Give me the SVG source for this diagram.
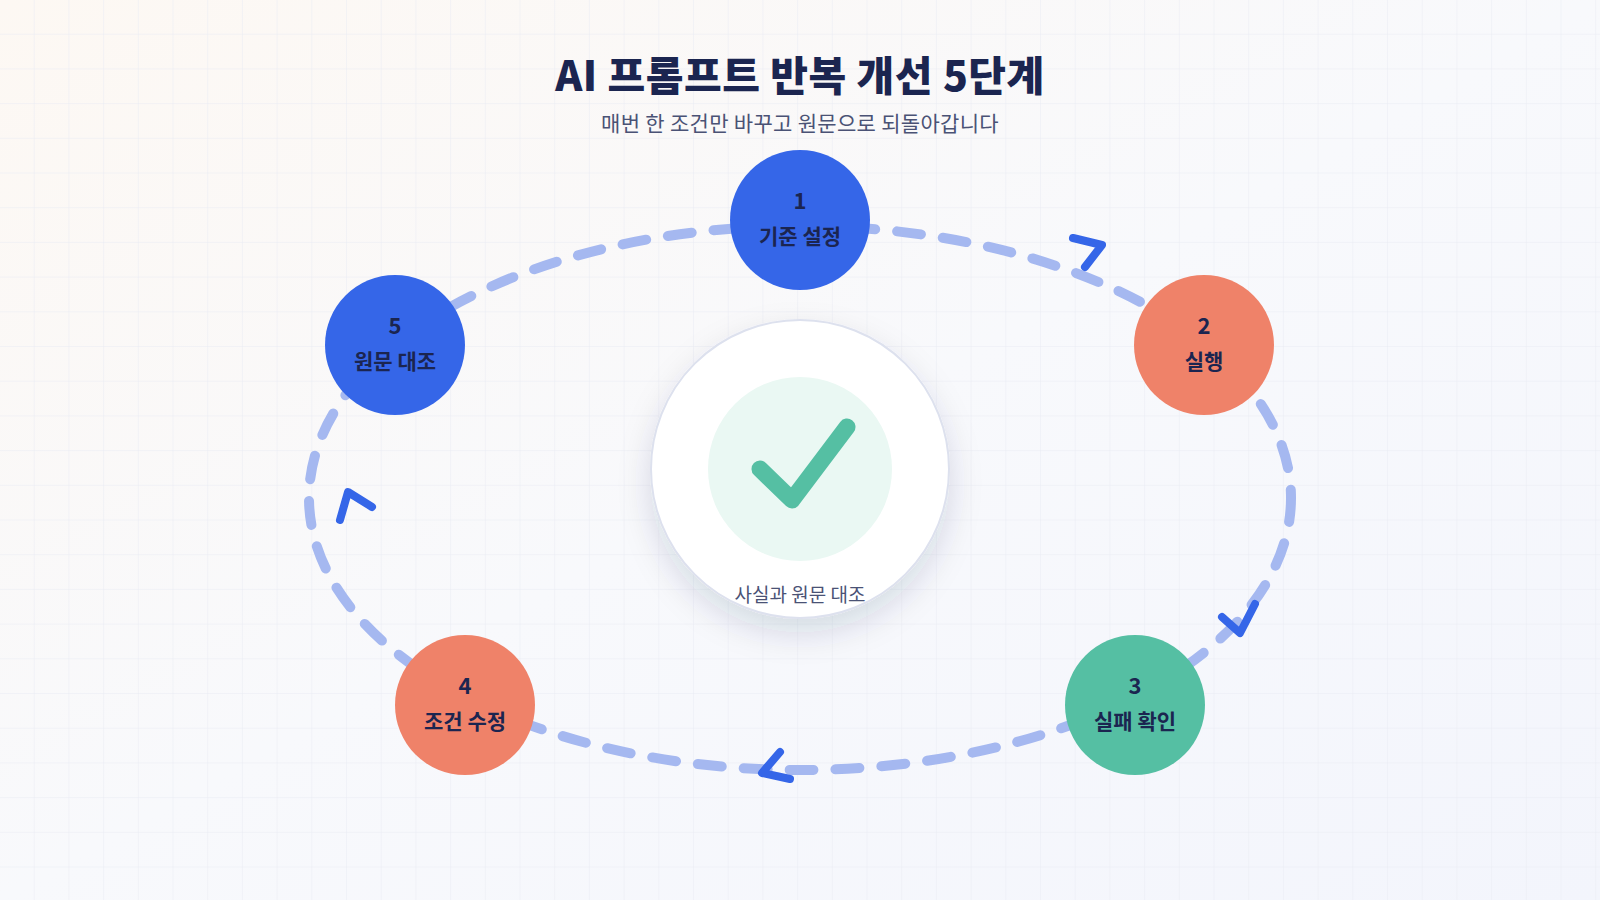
<svg xmlns="http://www.w3.org/2000/svg" width="1600" height="900" viewBox="0 0 1600 900">
<defs>
<linearGradient id="bg" x1="0" y1="0" x2="1" y2="1"><stop offset="0" stop-color="#fdf8f3"/><stop offset="0.5" stop-color="#f8f9fc"/><stop offset="1" stop-color="#f3f5fc"/></linearGradient>
<pattern id="grid" width="34.7" height="34.7" patternUnits="userSpaceOnUse"><path d="M34.7 0V34.7H0" fill="none" stroke="#e9ecf3" stroke-width="1"/></pattern>
<filter id="sh" x="-30%" y="-30%" width="160%" height="160%"><feDropShadow dx="0" dy="14" stdDeviation="16" flood-color="#1b2550" flood-opacity="0.14"/></filter>
</defs>
<style>
.n text{font-family:"Noto Sans CJK KR","Noto Sans",sans-serif;font-weight:700;fill:#1b2550;text-anchor:middle}
.num{font-size:22px}.lbl{font-size:21px}
.chev{fill:none;stroke:#3566e8;stroke-width:8;stroke-linecap:round;stroke-linejoin:round}
</style>
<rect width="1600" height="900" fill="url(#bg)"/>
<rect width="1600" height="900" fill="url(#grid)"/>
<text x="800" y="91" text-anchor="middle" font-family="Noto Sans CJK KR,sans-serif" font-weight="900" font-size="41" letter-spacing="0.5" fill="#1b2550">AI 프롬프트 반복 개선 5단계</text>
<text x="800" y="131" text-anchor="middle" font-family="Noto Sans CJK KR,sans-serif" font-size="21" letter-spacing="0.3" fill="#4a5275">매번 한 조건만 바꾸고 원문으로 되돌아갑니다</text>
<g id="connectors">
<ellipse cx="800" cy="498" rx="491" ry="272" fill="none" stroke="#a5b8f0" stroke-width="10" stroke-linecap="round" stroke-dasharray="24 22"/>
<polyline class="chev" points="1073,238 1102,245 1085,267"/>
<polyline class="chev" points="1222,617 1240,633 1255,604"/>
<polyline class="chev" points="780,752 762,773 790,779"/>
<polyline class="chev" points="340,520 348,492 372,507"/>
</g>
<g id="center">
<circle cx="800" cy="469" r="149" fill="#ffffff" stroke="#dde1ee" stroke-width="2" filter="url(#sh)"/>
<circle cx="800" cy="469" r="92" fill="#eaf8f3"/>
<path d="M760 469 L792 500 L847 427" fill="none" stroke="#55bfa3" stroke-width="17" stroke-linecap="round" stroke-linejoin="round"/>
<text x="800" y="602" text-anchor="middle" font-family="Noto Sans CJK KR,sans-serif" font-size="19" fill="#4a5275">사실과 원문 대조</text>
</g>
<g id="n1" class="n"><circle cx="800" cy="220" r="70" fill="#3566e8"/><text class="num" x="800" y="209">1</text><text class="lbl" x="800" y="244">기준 설정</text></g>
<g id="n2" class="n"><circle cx="1204" cy="345" r="70" fill="#ef8269"/><text class="num" x="1204" y="334">2</text><text class="lbl" x="1204" y="369">실행</text></g>
<g id="n3" class="n"><circle cx="1135" cy="705" r="70" fill="#55bfa3"/><text class="num" x="1135" y="694">3</text><text class="lbl" x="1135" y="729">실패 확인</text></g>
<g id="n4" class="n"><circle cx="465" cy="705" r="70" fill="#ef8269"/><text class="num" x="465" y="694">4</text><text class="lbl" x="465" y="729">조건 수정</text></g>
<g id="n5" class="n"><circle cx="395" cy="345" r="70" fill="#3566e8"/><text class="num" x="395" y="334">5</text><text class="lbl" x="395" y="369">원문 대조</text></g>
</svg>
